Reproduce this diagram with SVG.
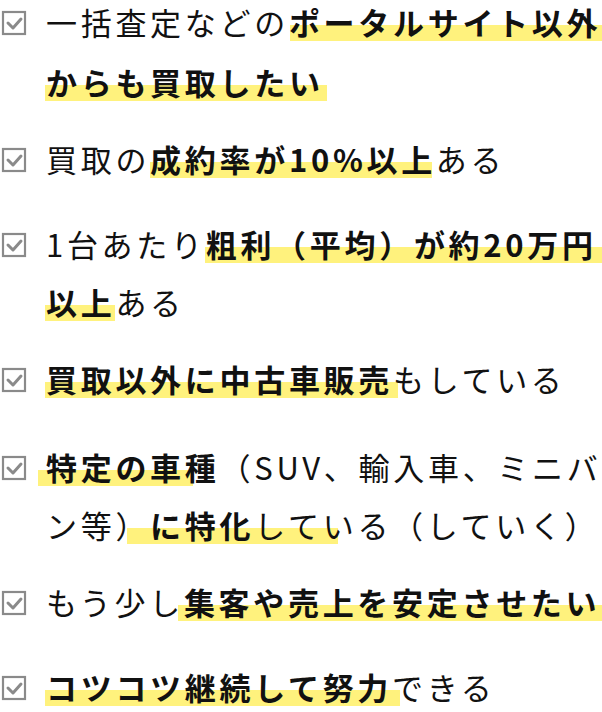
<svg xmlns="http://www.w3.org/2000/svg" width="602" height="712" viewBox="0 0 602 712">
<style>
text{font-family:"Noto Sans CJK JP","Noto Sans",sans-serif;font-size:31px;letter-spacing:3.7px;fill:#111}
.b{font-weight:bold}
.hl{fill:#fff27d}
</style>
<defs>
<g id="box"><rect x="3" y="-11" width="22" height="22" fill="#fff" stroke="#8a8a8a" stroke-width="2.2"/><path d="M8 0 L13 5 L21 -4" fill="none" stroke="#8a8a8a" stroke-width="3" stroke-linecap="round" stroke-linejoin="round"/></g>
</defs>
<g id="item1">
<rect class="hl" x="290" y="25" width="312" height="16"/><rect class="hl" x="45" y="85" width="282" height="16"/>
<use href="#box" y="23"/>
<text x="46" y="35">一括査定などの<tspan class="b">ポータルサイト以外</tspan></text>
<text x="46" y="95" class="b">からも買取したい</text>
</g>
<g id="item2">
<rect class="hl" x="150" y="162" width="282" height="16"/>
<use href="#box" y="160"/>
<text x="46" y="172">買取の<tspan class="b">成約率が10%以上</tspan>ある</text>
</g>
<g id="item3">
<rect class="hl" x="205" y="247" width="397" height="16"/><rect class="hl" x="45" y="305" width="70" height="16"/>
<use href="#box" y="245"/>
<text x="46" y="257">1台あたり<tspan class="b">粗利（平均）が約20万円</tspan></text>
<text x="46" y="315"><tspan class="b">以上</tspan>ある</text>
</g>
<g id="item4">
<rect class="hl" x="45" y="382" width="353" height="16"/>
<use href="#box" y="380"/>
<text x="46" y="392" class="b">買取以外に中古車販売<tspan font-weight="normal">もしている</tspan></text>
</g>
<g id="item5">
<rect class="hl" x="38" y="470" width="155" height="16"/><rect class="hl" x="127" y="528" width="211" height="16"/>
<use href="#box" y="468"/>
<text x="46" y="480"><tspan class="b">特定の車種</tspan>（SUV、輸入車、ミニバ</text>
<text x="46" y="538">ン等）<tspan class="b">に特化</tspan>している（していく）</text>
</g>
<g id="item6">
<rect class="hl" x="178" y="605" width="424" height="16"/>
<use href="#box" y="603"/>
<text x="46" y="615">もう少し<tspan class="b">集客や売上を安定させたい</tspan></text>
</g>
<g id="item7">
<rect class="hl" x="45" y="690" width="355" height="16"/>
<use href="#box" y="688"/>
<text x="46" y="700"><tspan class="b">コツコツ継続して努力</tspan>できる</text>
</g>
<g id="connectors"/>
</svg>
